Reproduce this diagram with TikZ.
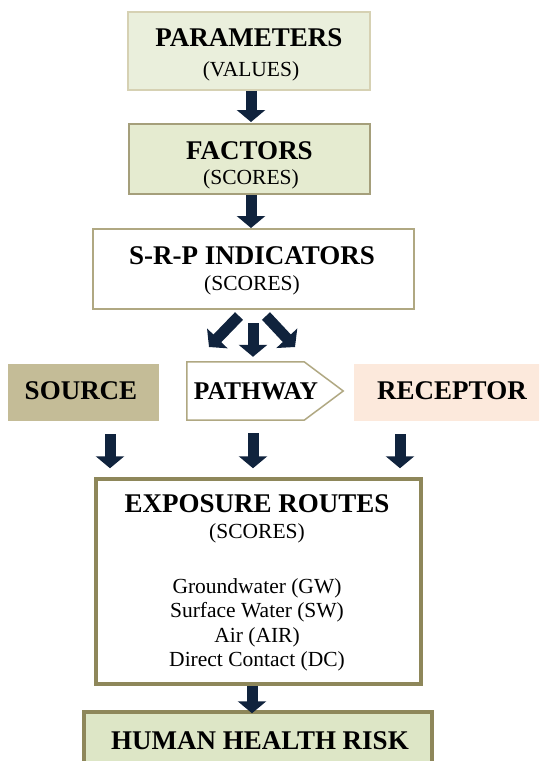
\documentclass[tikz,border=0pt]{standalone}
\usepackage{fontspec}
\setmainfont{Liberation Serif}
\usetikzlibrary{arrows.meta,calc}
\definecolor{arrowblue}{HTML}{10233D}
\definecolor{paramfill}{HTML}{EAEFDC}
\definecolor{paramline}{HTML}{D6D1B3}
\definecolor{factfill}{HTML}{E5EBD0}
\definecolor{oliveline}{HTML}{8E875A}
\definecolor{tanline}{HTML}{B0A882}
\definecolor{sourcefill}{HTML}{C4BC97}
\definecolor{recfill}{HTML}{FCE9DC}
\definecolor{riskfill}{HTML}{DDE6C6}

\begin{document}
\begin{tikzpicture}[x=1pt,y=-1pt,
    box/.style={rectangle, inner sep=0pt},
    ttl/.style={anchor=base, font=\fontsize{27}{30}\selectfont\bfseries},
    sub/.style={anchor=base, font=\fontsize{21.5}{24}\selectfont},
    blk/.style={draw=arrowblue, line width=11pt, -{Triangle[width=28pt,length=12pt]}}]
    \clip (0,0) rectangle (539,761);
    \fill[white] (0,0) rectangle (539,761);
    % boxes
    \node[box, draw=paramline, line width=1.5pt, fill=paramfill, minimum width=242, minimum height=78] (param) at (249,51) {};
    \node[box, draw=oliveline!80, line width=2pt, fill=factfill, minimum width=241, minimum height=70] (fact) at (249.5,159) {};
    \node[box, draw=tanline, line width=2pt, fill=white, minimum width=321, minimum height=80] (srp) at (253.5,269) {};
    \node[box, fill=sourcefill, minimum width=151, minimum height=57] (source) at (83.5,392.5) {};
    \node[box, minimum width=117, minimum height=58] (path) at (245.5,391) {};
    \draw[tanline, line width=1.5pt] (path.north west) -- (path.north east) -- ($(path.east)+(39,0)$) -- (path.south east) -- (path.south west) -- cycle;
    \node[box, fill=recfill, minimum width=190, minimum height=57] (rec) at (449,392.5) {};
    \node[box, draw=oliveline, line width=3.5pt, fill=white, minimum width=325, minimum height=205] (expo) at (258.5,581.5) {};
    \node[box, draw=oliveline, line width=3.5pt, fill=riskfill, minimum width=348, minimum height=68] (risk) at (258,746) {};
    % texts
    \node[ttl] (paramT) at (249,46) {PARAMETERS};
    \node[sub] (paramS) at (251,76) {(VALUES)};
    \node[ttl] (factT) at (249.5,159) {FACTORS};
    \node[sub] (factS) at (251,184) {(SCORES)};
    \node[ttl] (srpT) at (252,264) {S-R-P INDICATORS};
    \node[sub] (srpS) at (252,290) {(SCORES)};
    \node[ttl] (sourceT) at (81,399) {SOURCE};
    \node[ttl, font=\fontsize{25.5}{28}\selectfont\bfseries] (pathT) at (256,399) {PATHWAY};
    \node[ttl] (recT) at (452,399) {RECEPTOR};
    \node[ttl] (expoT) at (257,512) {EXPOSURE ROUTES};
    \node[sub] (expoS) at (257,538) {(SCORES)};
    \node[sub] (gw) at (257,593) {Groundwater (GW)};
    \node[sub] (sw) at (257,617.5) {Surface Water (SW)};
    \node[sub] (air) at (257,642) {Air (AIR)};
    \node[sub] (dc) at (257,666.5) {Direct Contact (DC)};
    \node[ttl] (riskT) at (260,749) {HUMAN HEALTH RISK};
    % arrows
    \coordinate (srcTail) at (239,316);
    \coordinate (srcTip) at (209,347);
    \coordinate (recTail) at (266,316);
    \coordinate (recTip) at (295,347);
    \draw[blk, shorten >=1pt] (251,0 |- param.south) -- (251,0 |- fact.north);
    \draw[blk] (251,0 |- fact.south) -- (251,0 |- srp.north);
    \draw[blk, shorten <=13pt, shorten >=5pt] (253,0 |- srp.south) -- (253,0 |- path.north);
    \draw[blk] (srcTail) -- (srcTip);
    \draw[blk] (recTail) -- (recTip);
    \draw[blk, shorten <=13pt, shorten >=9pt] (110,0 |- source.south) -- (110,0 |- expo.north);
    \draw[blk, shorten <=13pt, shorten >=9pt] (253,0 |- path.south) -- (253,0 |- expo.north);
    \draw[blk, shorten <=13pt, shorten >=9pt] (400,0 |- rec.south) -- (400,0 |- expo.north);
    \draw[blk, shorten >=-3pt] (252,0 |- expo.south) -- (252,0 |- risk.north);
\end{tikzpicture}
\end{document}
